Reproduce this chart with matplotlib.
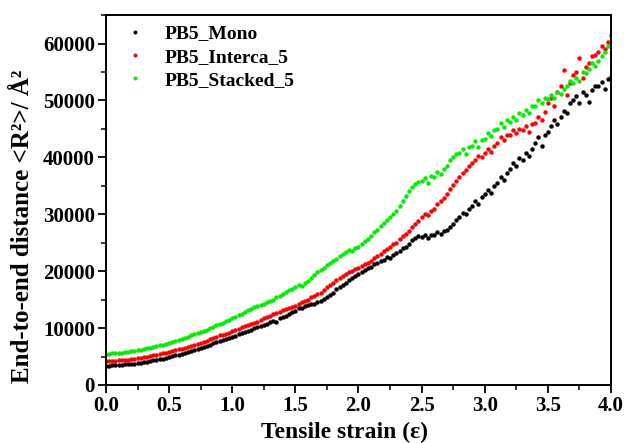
import numpy as np
import matplotlib.pyplot as plt
from matplotlib.ticker import MultipleLocator

# strain grid of the simulation output (0 to 4 in steps of 0.025)
strain = np.arange(161) * 0.025

mono = [3400, 3420, 3450, 3480, 3500, 3540, 3600, 3650, 3700, 3760, 3840, 3920,
        4000, 4100, 4200, 4300, 4400, 4520, 4650, 4780, 4900, 5050, 5200, 5350,
        5500, 5680, 5850, 6030, 6200, 6350, 6550, 6720, 6900, 7050, 7300, 7480,
        7700, 7900, 8100, 8300, 8500, 8650, 8900, 9100, 9300, 9450, 9700, 9950,
        10100, 10400, 10550, 10800, 11000, 11300, 11150, 11700, 12000, 12200, 12500, 12800,
        13000, 13500, 13600, 13800, 14000, 14300, 14200, 14500, 14700, 15100, 15500, 15800,
        16200, 16800, 17200, 17600, 18000, 18400, 18800, 19100, 19500, 19800, 20200, 20500,
        20800, 21200, 21400, 21700, 22000, 22500, 22300, 22900, 23200, 23600, 24000, 24300,
        24800, 25500, 25900, 26200, 26000, 26400, 25800, 26300, 26300, 26800, 26500, 27000,
        27200, 27800, 28300, 29000, 29500, 30200, 30000, 31000, 31500, 32300, 31800, 33000,
        33500, 34200, 33800, 35000, 35500, 36500, 36000, 37200, 38000, 39000, 38500, 39800,
        39500, 40800, 40200, 41500, 42500, 43500, 42000, 44000, 44500, 45500, 46500, 45800,
        47000, 48200, 47800, 49500, 50000, 50800, 49500, 51500, 51000, 49800, 51800, 52500,
        52500, 53200, 52000, 53800, 54200]

interca = [4200, 4220, 4240, 4270, 4300, 4350, 4400, 4450, 4500, 4600, 4700, 4800,
           4900, 5000, 5100, 5200, 5300, 5420, 5550, 5680, 5800, 5950, 6100, 6250,
           6400, 6550, 6700, 6850, 7000, 7200, 7400, 7600, 7800, 8000, 8250, 8450,
           8700, 8850, 9000, 9200, 9400, 9650, 9850, 10100, 10300, 10500, 10750, 10900,
           11100, 11400, 11700, 11900, 12200, 12400, 12700, 12900, 13100, 13300, 13600, 13700,
           13900, 14300, 14500, 14800, 15000, 15400, 15700, 15900, 16200, 16700, 17200, 17600,
           18000, 18400, 18800, 19200, 19500, 19800, 20100, 20400, 20600, 20900, 21200, 21500,
           21800, 22300, 22700, 23100, 23500, 23900, 24300, 24700, 25000, 25600, 26200, 26600,
           27000, 27700, 28300, 28900, 29500, 30100, 29800, 30500, 31000, 31800, 32400, 32900,
           33500, 34500, 35200, 35800, 36500, 37200, 37800, 38500, 39000, 39500, 40300, 40000,
           40800, 41500, 41000, 42000, 42500, 43500, 43000, 44000, 44000, 44800, 44300, 45000,
           44800, 45500, 44500, 45800, 46000, 47000, 46500, 48000, 49500, 50500, 49000, 51500,
           52500, 55300, 51000, 53000, 54500, 55000, 57500, 54000, 55800, 56500, 57800, 58000,
           58500, 59500, 59000, 60200, 61500]

stacked = [5500, 5520, 5540, 5570, 5600, 5650, 5750, 5820, 5900, 6000, 6100, 6200,
           6300, 6420, 6550, 6680, 6800, 6950, 7100, 7250, 7400, 7580, 7750, 7930,
           8100, 8300, 8500, 8700, 8900, 9100, 9300, 9500, 9700, 9950, 10200, 10450,
           10700, 10950, 11200, 11450, 11700, 12000, 12300, 12550, 12800, 13100, 13400, 13650,
           13900, 14100, 14300, 14500, 14700, 15000, 15400, 15700, 16000, 16300, 16600, 16900,
           17200, 17500, 17400, 17900, 18300, 18800, 19300, 19800, 20200, 20600, 21000, 21400,
           21800, 22200, 22600, 23000, 23300, 23700, 23500, 24000, 24300, 24800, 25300, 25700,
           26200, 26800, 27300, 27900, 28500, 29000, 29600, 30000, 30500, 31500, 32300, 33200,
           34000, 34800, 35300, 35600, 35800, 36400, 35500, 36800, 36500, 37500, 37000, 38000,
           38500, 39500, 40000, 40500, 40800, 41500, 40500, 41800, 42000, 42800, 41800, 43000,
           43300, 44200, 43800, 44800, 45000, 46000, 45300, 46500, 46200, 47000, 46500, 47800,
           47500, 48300, 47800, 49000, 49000, 50000, 49500, 50500, 50300, 51000, 50500, 51500,
           51200, 52000, 52500, 53500, 53000, 54000, 53500, 55000, 54800, 55500, 56500, 56000,
           57000, 57800, 58500, 59500, 60500]

plt.rcParams['font.family'] = 'Liberation Serif'
plt.rcParams['font.weight'] = 'bold'

fig = plt.figure(figsize=(6.27, 4.43), dpi=100)
ax = fig.add_axes([0.169, 0.131, 0.8055, 0.835])

ax.plot(strain, mono, 'o', color='black', markersize=3.2, markeredgewidth=0, label='PB5_Mono')
ax.plot(strain, interca, 'o', color='#ff0000', markersize=3.2, markeredgewidth=0, label='PB5_Interca_5')
ax.plot(strain, stacked, 'o', color='#00ee00', markersize=3.2, markeredgewidth=0, label='PB5_Stacked_5')

ax.set_xlim(0, 4.0)
ax.set_ylim(0, 65000)
ax.xaxis.set_major_locator(MultipleLocator(0.5))
ax.xaxis.set_minor_locator(MultipleLocator(0.25))
ax.yaxis.set_major_locator(MultipleLocator(10000))
ax.yaxis.set_minor_locator(MultipleLocator(5000))
ax.tick_params(which='major', direction='out', length=6, width=1.3, labelsize=15, pad=2)
ax.tick_params(which='minor', direction='out', length=3.5, width=1.1)
for sp in ax.spines.values():
    sp.set_linewidth(1.4)

ax.set_xlabel('Tensile strain (ε)', fontsize=17, fontweight='bold')
ax.set_ylabel('End-to-end distance <R²>/ Å²', fontsize=18, fontweight='bold')
ax.xaxis.set_label_coords(0.473, -0.1)
ax.yaxis.set_label_coords(-0.142, 0.43)

leg = ax.legend(loc='upper left', frameon=False, fontsize=14, handletextpad=0.5,
                markerscale=0.9, borderaxespad=0.1, labelspacing=0.3,
                bbox_to_anchor=(0.0, 1.0))
for t in leg.get_texts():
    t.set_fontweight('bold')

fig.savefig('out.png', dpi=100)
